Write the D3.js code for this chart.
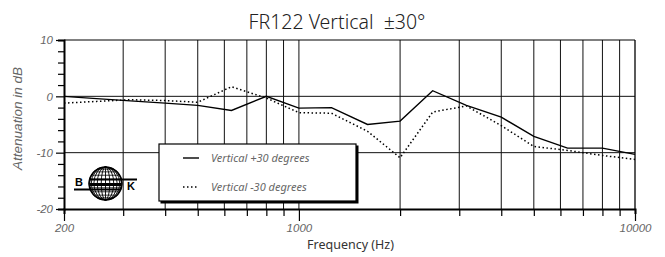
<!DOCTYPE html>
<html>
<head>
<meta charset="utf-8">
<script src="https://cdn.jsdelivr.net/npm/d3@7"></script>
<style>
  body { margin: 0; background: #fff; }
  svg { display: block; }
  .tick-label { font-family: "Liberation Sans", Arial, sans-serif; font-style: italic; font-size: 11.5px; fill: #666; }
  .title { font-family: "Noto Sans", sans-serif; font-weight: 300; font-size: 19.5px; fill: #222; white-space: pre; }
  .axis-title { font-family: "Noto Sans", sans-serif; font-size: 12.5px; fill: #333; }
  .legend-text { font-family: "Noto Sans", sans-serif; font-style: italic; font-size: 11px; fill: #666; }
</style>
</head>
<body>
<div id="chart"></div>
<script>
// 1/3 octave frequencies and attenuation (dB)
var freqs = [200, 250, 315, 400, 500, 630, 800, 1000, 1250, 1600, 2000, 2500, 3150, 4000, 5000, 6300, 8000, 10000];
var plus30 = [0, -0.4, -0.8, -1.2, -1.6, -2.5, 0, -2.1, -2.0, -5.0, -4.4, 1.0, -1.6, -3.7, -7.1, -9.2, -9.2, -10.3];
var minus30 = [-1.2, -0.9, -0.6, -0.75, -1.05, 1.7, -0.3, -2.9, -3.0, -6.2, -10.9, -2.8, -1.7, -5.2, -8.9, -9.6, -10.5, -11.2];

var xLabels = [200, 1000, 10000];
var yLabels = [10, 0, -10, -20];
var seriesNames = ["Vertical +30 degrees", "Vertical -30 degrees"];

var W = 665, H = 257;
var margin = {top: 40, right: 30, bottom: 48, left: 64};
var width = W - margin.left - margin.right,
    height = H - margin.top - margin.bottom;

var svg = d3.select("#chart").append("svg")
    .attr("width", W)
    .attr("height", H);

var g = svg.append("g")
    .attr("transform", "translate(" + margin.left + "," + margin.top + ")");

// Scales
var x = d3.scaleLog().domain([200, 10000]).range([0, width]);
var y = d3.scaleLinear().domain([-20, 10]).range([height, 0]);

// vertical grid at every log tick
var gridFreqs = x.ticks();
g.selectAll(".vgrid")
    .data(gridFreqs.filter(function(d) { return d > 200 && d < 10000; }))
    .enter().append("line")
    .attr("class", "vgrid")
    .attr("x1", function(d) { return x(d); })
    .attr("x2", function(d) { return x(d); })
    .attr("y1", 0).attr("y2", height)
    .attr("stroke", "#111").attr("stroke-width", 1);

// horizontal grid
g.selectAll(".hgrid")
    .data([0, -10])
    .enter().append("line")
    .attr("class", "hgrid")
    .attr("x1", 0).attr("x2", width)
    .attr("y1", function(d) { return y(d); })
    .attr("y2", function(d) { return y(d); })
    .attr("stroke", "#111").attr("stroke-width", 1);

// frame: top and right thin, left and bottom thick
g.append("line").attr("x1", 0).attr("x2", width).attr("y1", 0).attr("y2", 0)
    .attr("stroke", "#000").attr("stroke-width", 1);
g.append("line").attr("x1", width).attr("x2", width).attr("y1", 0).attr("y2", height)
    .attr("stroke", "#000").attr("stroke-width", 1.3);

// Y axis with minor ticks every 2 dB
var yAxis = d3.axisLeft(y)
    .tickValues(d3.range(-20, 10.1, 2))
    .tickSize(6)
    .tickFormat(function(d) { return yLabels.indexOf(d) >= 0 ? d : ""; });
var yG = g.append("g").call(yAxis);
yG.select(".domain").attr("stroke-width", 2);
yG.selectAll(".tick line").attr("stroke-width", 1.2)
    .attr("x2", function(d) { return yLabels.indexOf(d) >= 0 ? -8 : -6; });
yG.selectAll(".tick text").attr("class", "tick-label").attr("x", -11)
    .attr("font-family", null).attr("font-size", null);
yG.attr("font-family", null).attr("font-size", null);

// X axis
var xAxis = d3.axisBottom(x)
    .tickValues(gridFreqs)
    .tickSize(5)
    .tickFormat(function(d) { return xLabels.indexOf(d) >= 0 ? d : ""; });
var xG = g.append("g").attr("transform", "translate(0," + height + ")").call(xAxis);
xG.select(".domain").attr("stroke-width", 2);
xG.selectAll(".tick line").attr("stroke-width", 1.2)
    .attr("y2", function(d) { return xLabels.indexOf(d) >= 0 ? 12 : 7; });
xG.selectAll(".tick text").attr("class", "tick-label").attr("y", 15)
    .attr("font-family", null).attr("font-size", null);
xG.attr("font-family", null).attr("font-size", null);

// the lines
var line = d3.line()
    .x(function(d) { return x(d[0]); })
    .y(function(d) { return y(d[1]); });

g.append("path")
    .datum(d3.zip(freqs, minus30))
    .attr("fill", "none").attr("stroke", "#000")
    .attr("stroke-width", 1.5).attr("stroke-dasharray", "1.5,2.5")
    .attr("d", line);

g.append("path")
    .datum(d3.zip(freqs, plus30))
    .attr("fill", "none").attr("stroke", "#000")
    .attr("stroke-width", 1.4)
    .attr("d", line);

// legend
var lg = svg.append("g").attr("transform", "translate(159,144)");
lg.append("rect").attr("x", 1.5).attr("y", 1.5).attr("width", 198).attr("height", 58).attr("fill", "#000");
lg.append("rect").attr("x", 0).attr("y", 0).attr("width", 197).attr("height", 57)
    .attr("fill", "#fff").attr("stroke", "#000").attr("stroke-width", 1.2);
seriesNames.forEach(function(name, i) {
    var yy = 14 + i * 29;
    lg.append("line").attr("x1", 24).attr("x2", 40).attr("y1", yy).attr("y2", yy)
        .attr("stroke", "#000").attr("stroke-width", 1.4)
        .attr("stroke-dasharray", i === 1 ? "1.5,2.5" : null);
    lg.append("text").attr("class", "legend-text").attr("x", 52).attr("y", yy + 4).text(name);
});

// logo: BK globe
var logo = svg.append("g");
var proj = d3.geoOrthographic().scale(16.5).translate([105.5, 183.5]).rotate([0, 0]);
var geo = d3.geoPath(proj);
logo.append("path").datum({type: "Sphere"}).attr("d", geo)
    .attr("fill", "#fff").attr("stroke", "#000").attr("stroke-width", 1.3);
logo.append("path").datum(d3.geoGraticule().step([15, 15])())
    .attr("d", geo).attr("fill", "none").attr("stroke", "#000").attr("stroke-width", 0.9);
logo.append("line").attr("x1", 74).attr("x2", 121).attr("y1", 189.5).attr("y2", 189.5)
    .attr("stroke", "#000").attr("stroke-width", 2.2);
logo.append("line").attr("x1", 90).attr("x2", 137).attr("y1", 179.5).attr("y2", 179.5)
    .attr("stroke", "#000").attr("stroke-width", 2.2);
logo.append("rect").attr("x", 90).attr("y", 183).attr("width", 31).attr("height", 3).attr("fill", "#000");
logo.append("text").attr("x", 75).attr("y", 186).attr("font-family", "Liberation Sans, Arial, sans-serif")
    .attr("font-weight", "bold").attr("font-size", "11px").text("B");
logo.append("text").attr("x", 127).attr("y", 190).attr("font-family", "Liberation Sans, Arial, sans-serif")
    .attr("font-weight", "bold").attr("font-size", "11px").text("K");

// titles
svg.append("text").attr("class", "title")
    .attr("x", 337).attr("y", 29).attr("text-anchor", "middle")
    .text("FR122 Vertical\u00a0\u00a0\u00b130\u00b0");

svg.append("text").attr("class", "axis-title")
    .attr("x", margin.left + width / 2 + 1).attr("y", 249).attr("text-anchor", "middle")
    .text("Frequency (Hz)");

svg.append("text").attr("class", "tick-label")
    .attr("transform", "translate(22," + (margin.top + height / 2 - 6) + ") rotate(-90)")
    .attr("text-anchor", "middle").style("font-size", "13.5px")
    .text("Attenuation in dB");
</script>
</body>
</html>
